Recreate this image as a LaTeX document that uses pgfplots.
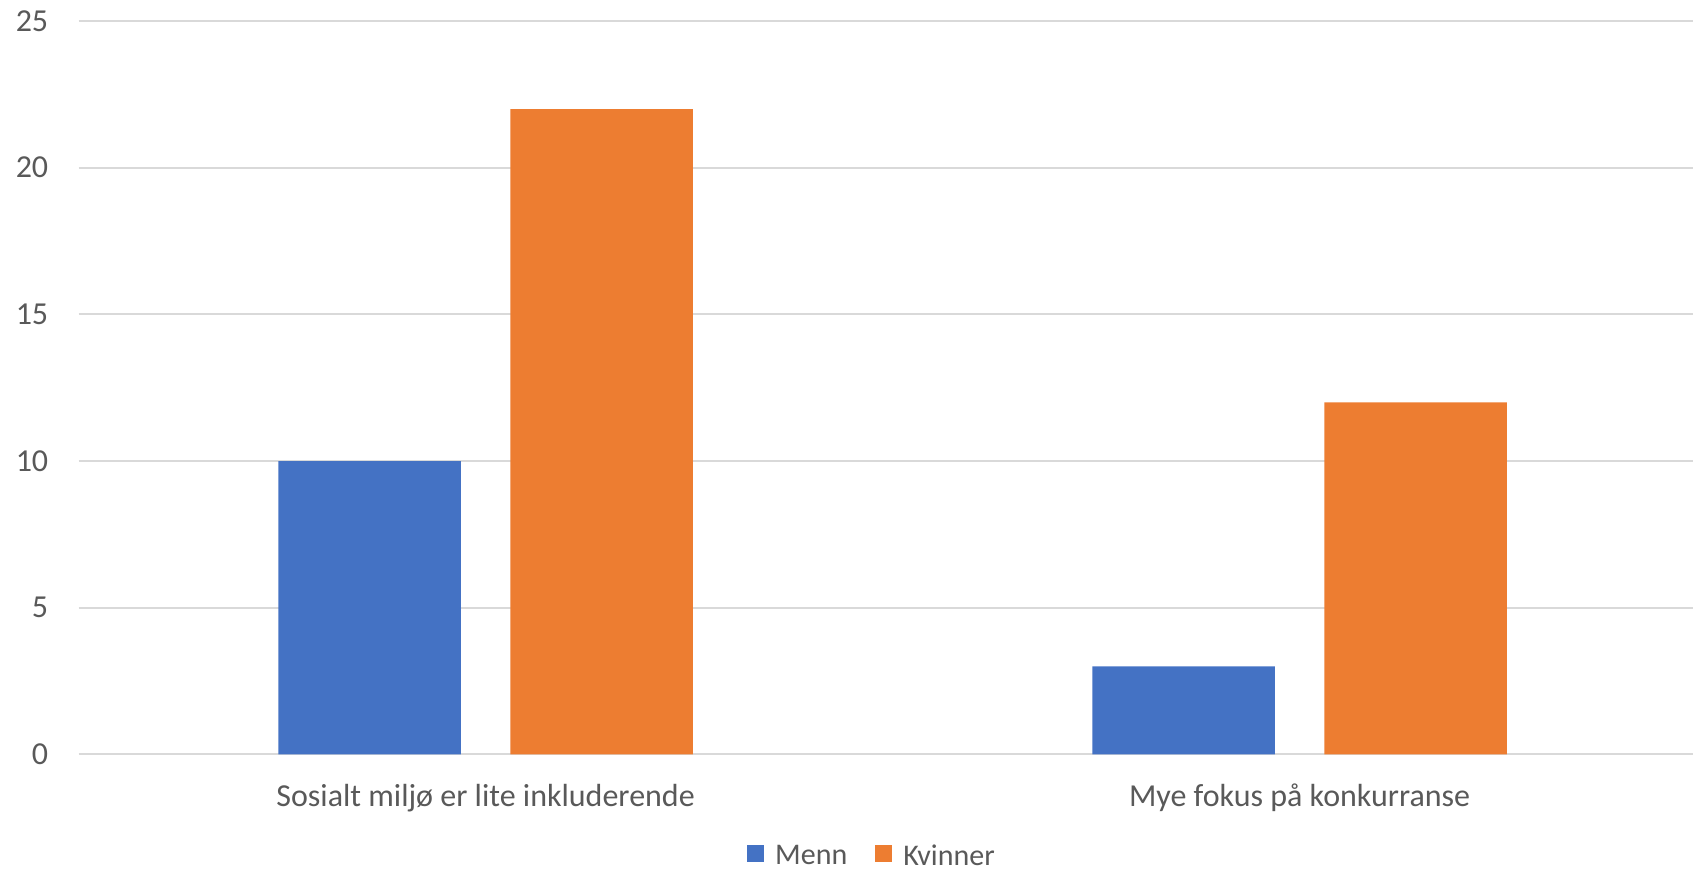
\documentclass[border=0pt]{standalone}
\usepackage{pgfplots}
\pgfplotsset{compat=1.18}
\usepackage{fontspec}
\setmainfont{Carlito}
\definecolor{menn}{HTML}{4472C4}
\definecolor{kvinner}{HTML}{ED7D31}
\definecolor{gridc}{HTML}{D9D9D9}
\definecolor{txt}{HTML}{595959}

\begin{document}
\begin{tikzpicture}
\begin{axis}[
  at={(0,0)}, anchor=south west,
  scale only axis, width=814pt, height=366.7pt,
  xmin=-0.5, xmax=1.5, ymin=0, ymax=25,
  xtick={0,1},
  xticklabels={Sosialt miljø er lite inkluderende, Mye fokus på konkurranse},
  ytick={0,5,...,25},
  /pgf/number format/assume math mode=true,
  ymajorgrids, grid style={gridc, line width=1pt},
  axis line style={draw=none}, major tick length=0pt,
  tick label style={font=\fontsize{16}{19}\selectfont, text=txt},
  xticklabel style={anchor=base, yshift=-26pt, inner sep=0pt},
  yticklabel style={anchor=east, xshift=-15pt, inner sep=0pt},
  ybar, bar width=91.35pt,
  legend columns=2,
  legend style={at={(0.4867,0)}, anchor=south, yshift=-57pt,
    draw=none, fill=none, inner sep=0pt, column sep=5.5pt,
    font=\fontsize{15}{18}\selectfont, text=txt,
    nodes={inner sep=0pt},
    /tikz/every even column/.append style={column sep=14pt}},
  legend image code/.code={\fill[#1] (0pt,-2.7pt) rectangle (8.5pt,5.8pt);},
]
\addplot[fill=menn, draw=none, bar shift=-58pt] coordinates {(0,10) (1,3)};
\addplot[fill=kvinner, draw=none, bar shift=58pt] coordinates {(0,22) (1,12)};
\legend{Menn, Kvinner}
\end{axis}
\pgfresetboundingbox
\path[use as bounding box] (-39.3pt,-58.85pt) rectangle (807.2pt,377.2pt);
\end{tikzpicture}
\end{document}
